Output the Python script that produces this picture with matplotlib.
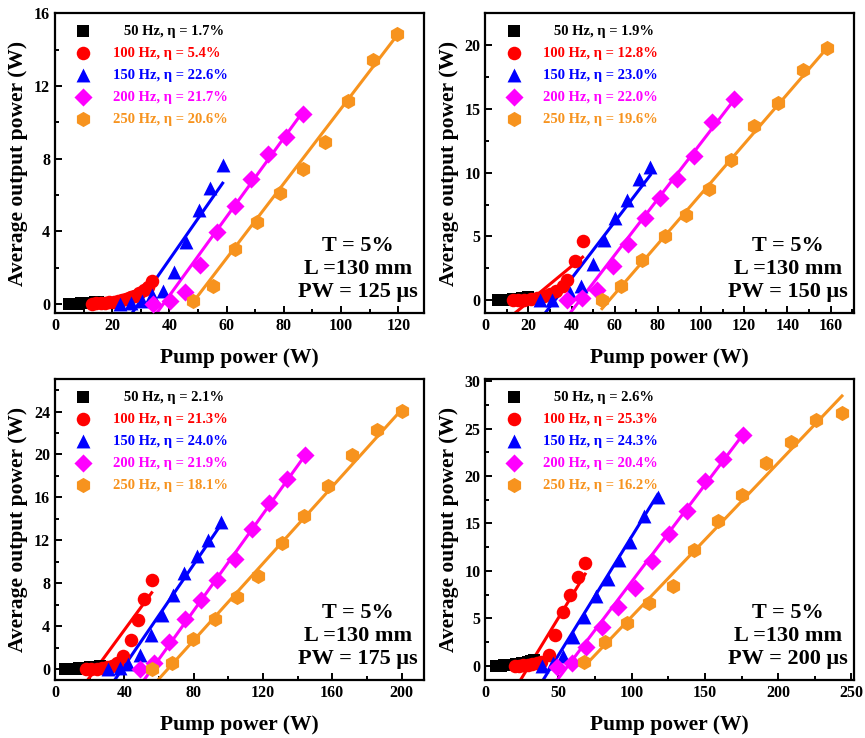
import numpy as np
import matplotlib
matplotlib.use('Agg')
import matplotlib.pyplot as plt
from matplotlib.ticker import AutoMinorLocator

plt.rcParams['font.family'] = ['Liberation Serif', 'DejaVu Serif']
plt.rcParams['font.weight'] = 'bold'

freqs = ['50', '100', '150', '200', '250']
colors = ['#000000', '#ff0000', '#0000ff', '#ff00ff', '#f7931e']
markers = ['s', 'o', '^', 'D', 'h']
pulse_widths = ['125', '150', '175', '200']

# slope efficiencies shown in the legends (%)
eta = [
    ['1.7', '5.4', '22.6', '21.7', '20.6'],
    ['1.9', '12.8', '23.0', '22.0', '19.6'],
    ['2.1', '21.3', '24.0', '21.9', '18.1'],
    ['2.6', '25.3', '24.3', '20.4', '16.2'],
]

# ---- PW = 125 us ----
p1_x50 = [5, 6, 7, 8, 9, 10, 11, 12, 13, 14, 15]
p1_y50 = [0.0, 0.0, 0.01, 0.01, 0.02, 0.03, 0.04, 0.05, 0.07, 0.08, 0.1]
p1_x100 = [13, 14.5, 16, 17.5, 19, 20.5, 22, 23.5, 25, 26.5, 28, 29.5, 31, 32.5, 34]
p1_y100 = [0.0, 0.02, 0.04, 0.06, 0.09, 0.12, 0.16, 0.21, 0.27, 0.35, 0.45, 0.58, 0.74, 0.95, 1.25]
p1_x150 = [22.7, 26.6, 30.3, 33.8, 37.9, 41.7, 45.8, 50.3, 54.2, 58.6]
p1_y150 = [0.0, 0.05, 0.15, 0.46, 0.7, 1.74, 3.38, 5.14, 6.4, 7.64]
p1_x200 = [34.4, 40.2, 45.4, 50.7, 56.5, 62.9, 68.4, 74.6, 80.7, 86.8]
p1_y200 = [0.0, 0.15, 0.64, 2.12, 3.95, 5.39, 6.88, 8.25, 9.2, 10.48]
p1_x250 = [48.1, 55.3, 62.9, 70.5, 78.6, 86.6, 94.4, 102.5, 111.3, 119.7]
p1_y250 = [0.15, 1.0, 3.02, 4.48, 6.13, 7.4, 8.92, 11.17, 13.44, 14.87]

# ---- PW = 150 us ----
p2_x50 = [6, 7, 8, 9, 10, 11, 12, 13, 14, 15, 16, 17, 18, 19, 20]
p2_y50 = [0.0, 0.0, 0.01, 0.02, 0.03, 0.04, 0.05, 0.07, 0.08, 0.1, 0.12, 0.14, 0.17, 0.2, 0.24]
p2_x100 = [13, 15, 18, 21, 24, 27, 30, 33, 36, 38, 41.7, 45.1]
p2_y100 = [0.0, 0.0, 0.05, 0.1, 0.2, 0.3, 0.45, 0.7, 1.1, 1.6, 3.05, 4.65]
p2_x150 = [25.5, 30.9, 39.4, 44.5, 49.8, 54.9, 60.3, 65.7, 71.1, 76.5]
p2_y150 = [0.0, 0.05, 0.57, 1.1, 2.84, 4.75, 6.44, 7.87, 9.52, 10.48]
p2_x200 = [37.9, 44.8, 51.8, 59.2, 66.2, 73.9, 81.2, 88.9, 96.9, 105.1, 115.2]
p2_y200 = [0.0, 0.18, 0.83, 2.66, 4.43, 6.44, 8.0, 9.52, 11.32, 13.95, 15.75]
p2_x250 = [54.1, 62.9, 72.7, 83.2, 93.1, 103.6, 114.1, 124.4, 135.7, 147.2, 158.4]
p2_y250 = [0.05, 1.1, 3.18, 5.06, 6.65, 8.71, 11.0, 13.66, 15.49, 18.04, 19.74]

# ---- PW = 175 us ----
p3_x50 = [6, 8, 10, 12, 14, 16, 18, 20, 22, 24, 26]
p3_y50 = [0.0, 0.01, 0.03, 0.05, 0.08, 0.1, 0.13, 0.17, 0.2, 0.25, 0.3]
p3_x100 = [18, 21, 24, 27, 30, 33, 36, 39.5, 43.8, 47.7, 51.5, 55.8]
p3_y100 = [0.0, 0.02, 0.05, 0.1, 0.18, 0.3, 0.6, 1.2, 2.7, 4.6, 6.5, 8.3]
p3_x150 = [30.8, 37.5, 42.3, 49.0, 55.2, 61.9, 68.3, 74.6, 81.7, 88.5, 95.6]
p3_y150 = [0.0, 0.15, 0.46, 1.3, 3.18, 5.09, 6.88, 8.95, 10.58, 12.03, 13.73]
p3_x200 = [49.0, 57.1, 66.0, 75.0, 84.2, 93.7, 103.8, 113.8, 123.7, 134.0, 144.2]
p3_y200 = [0.0, 0.62, 2.53, 4.69, 6.42, 8.27, 10.24, 13.02, 15.48, 17.74, 19.99]
p3_x250 = [55.8, 67.7, 79.4, 92.3, 104.8, 117.3, 130.8, 143.8, 157.7, 171.5, 185.6, 200.0]
p3_y250 = [0.0, 0.62, 2.78, 4.69, 6.69, 8.64, 11.78, 14.25, 17.03, 19.99, 22.3, 24.06]

# ---- PW = 200 us ----
p4_x50 = [7, 9, 11, 13, 15, 17, 19, 21, 23, 25, 27, 29, 31, 33]
p4_y50 = [0.0, 0.0, 0.02, 0.04, 0.06, 0.09, 0.12, 0.16, 0.2, 0.26, 0.32, 0.4, 0.5, 0.62]
p4_x100 = [20, 23, 26, 29, 32, 35, 38, 43.2, 47.7, 53.0, 58.0, 63.2, 68.2]
p4_y100 = [0.0, 0.02, 0.05, 0.1, 0.15, 0.25, 0.4, 1.15, 3.25, 5.7, 7.45, 9.37, 10.84]
p4_x150 = [38.6, 46.1, 53.0, 60.2, 67.7, 75.7, 83.6, 91.6, 98.9, 108.6, 117.7]
p4_y150 = [0.0, 0.28, 1.05, 3.08, 5.17, 7.34, 9.2, 11.12, 13.04, 15.84, 17.83]
p4_x200 = [48.9, 59.1, 68.6, 79.5, 90.9, 102.3, 113.6, 125.7, 138.0, 150.0, 162.5, 176.1]
p4_y200 = [-0.17, 0.28, 2.03, 4.13, 6.22, 8.25, 11.01, 13.85, 16.29, 19.51, 21.85, 24.3]
p4_x250 = [67.5, 81.8, 96.6, 111.8, 128.0, 142.5, 159.1, 175.0, 192.0, 208.6, 225.7, 243.6]
p4_y250 = [0.35, 2.55, 4.55, 6.57, 8.39, 12.17, 15.24, 18.04, 21.33, 23.64, 25.87, 26.68]

# linear fits: slope (W/W) and threshold pump power (W), per panel
fit_slope = [
    [0.017, 0.054, 0.226, 0.217, 0.206],
    [0.019, 0.14, 0.222, 0.22, 0.196],
    [0.021, 0.22, 0.236, 0.225, 0.179],
    [0.026, 0.253, 0.25, 0.204, 0.162],
]
fit_thresh = [
    [5, 15, 29.2, 37.9, 47.8],
    [5, 21, 32.3, 43.9, 57.5],
    [6, 23.4, 38.7, 55.8, 65],
    [7, 30, 45.5, 56.5, 68],
]

xlims = [(0, 129), (0, 171), (0, 213), (0, 252)]
ylims = [(-0.5, 16), (-1, 22.5), (-1, 27), (-1.5, 30.2)]
xticks = [np.arange(0, 121, 20), np.arange(0, 161, 20), np.arange(0, 201, 40), np.arange(0, 251, 50)]
yticks = [np.arange(0, 17, 4), np.arange(0, 21, 5), np.arange(0, 25, 4), np.arange(0, 31, 5)]

data = [
    [(p1_x50, p1_y50), (p1_x100, p1_y100), (p1_x150, p1_y150), (p1_x200, p1_y200), (p1_x250, p1_y250)],
    [(p2_x50, p2_y50), (p2_x100, p2_y100), (p2_x150, p2_y150), (p2_x200, p2_y200), (p2_x250, p2_y250)],
    [(p3_x50, p3_y50), (p3_x100, p3_y100), (p3_x150, p3_y150), (p3_x200, p3_y200), (p3_x250, p3_y250)],
    [(p4_x50, p4_y50), (p4_x100, p4_y100), (p4_x150, p4_y150), (p4_x200, p4_y200), (p4_x250, p4_y250)],
]
msize = [75, 95, 100, 85, 120]

fig = plt.figure(figsize=(8.65, 7.38), dpi=100)
boxes = [
    [0.0636, 0.576, 0.4266, 0.406],
    [0.561, 0.576, 0.4266, 0.406],
    [0.0636, 0.0786, 0.4266, 0.4074],
    [0.561, 0.0786, 0.4266, 0.4074],
]

for p in range(4):
    ax = fig.add_axes(boxes[p])
    ymin = ylims[p][0]
    handles = []
    for s in range(5):
        x, y = data[p][s]
        k, x0 = fit_slope[p][s], fit_thresh[p][s]
        xs = max(x[0], x0 + ymin / k)
        xl = np.array([xs, x[-1]])
        ax.plot(xl, k * (xl - x0), color=colors[s], lw=2.2, zorder=2)
        h = ax.scatter(x, y, marker=markers[s], color=colors[s], s=msize[s],
                       linewidths=0, zorder=3)
        handles.append(h)
    labels = [('   ' if f == '50' else '') + f'{f} Hz, η = {e}%' for f, e in zip(freqs, eta[p])]
    leg = ax.legend(handles, labels, loc='upper left', frameon=False, fontsize=10.5,
                    handletextpad=1.0, labelspacing=0.6, borderaxespad=0.3,
                    bbox_to_anchor=(0.01, 0.995), scatterpoints=1)
    for t, c in zip(leg.get_texts(), colors):
        t.set_color(c)
        t.set_fontweight('bold')

    ax.text(0.82, 0.035, f'T = 5%\nL =130 mm\nPW = {pulse_widths[p]} μs', transform=ax.transAxes,
            ha='center', va='bottom', fontsize=16, fontweight='bold', linespacing=1.2)

    ax.set_xlim(*xlims[p])
    ax.set_ylim(*ylims[p])
    ax.set_xticks(xticks[p])
    ax.set_yticks(yticks[p])
    ax.xaxis.set_minor_locator(AutoMinorLocator(2))
    ax.yaxis.set_minor_locator(AutoMinorLocator(2))
    ax.tick_params(which='both', direction='in', width=1.4, labelsize=11.5)
    ax.tick_params(which='major', length=5)
    ax.tick_params(which='minor', length=3)
    for lab in ax.get_xticklabels() + ax.get_yticklabels():
        lab.set_fontweight('bold')
    for sp in ax.spines.values():
        sp.set_linewidth(1.6)
    ax.set_xlabel('Pump power (W)', fontsize=15.5, fontweight='bold', labelpad=10)
    ax.set_ylabel('Average output power (W)', fontsize=15.5, fontweight='bold', labelpad=4)

fig.savefig('out.png', dpi=100)
